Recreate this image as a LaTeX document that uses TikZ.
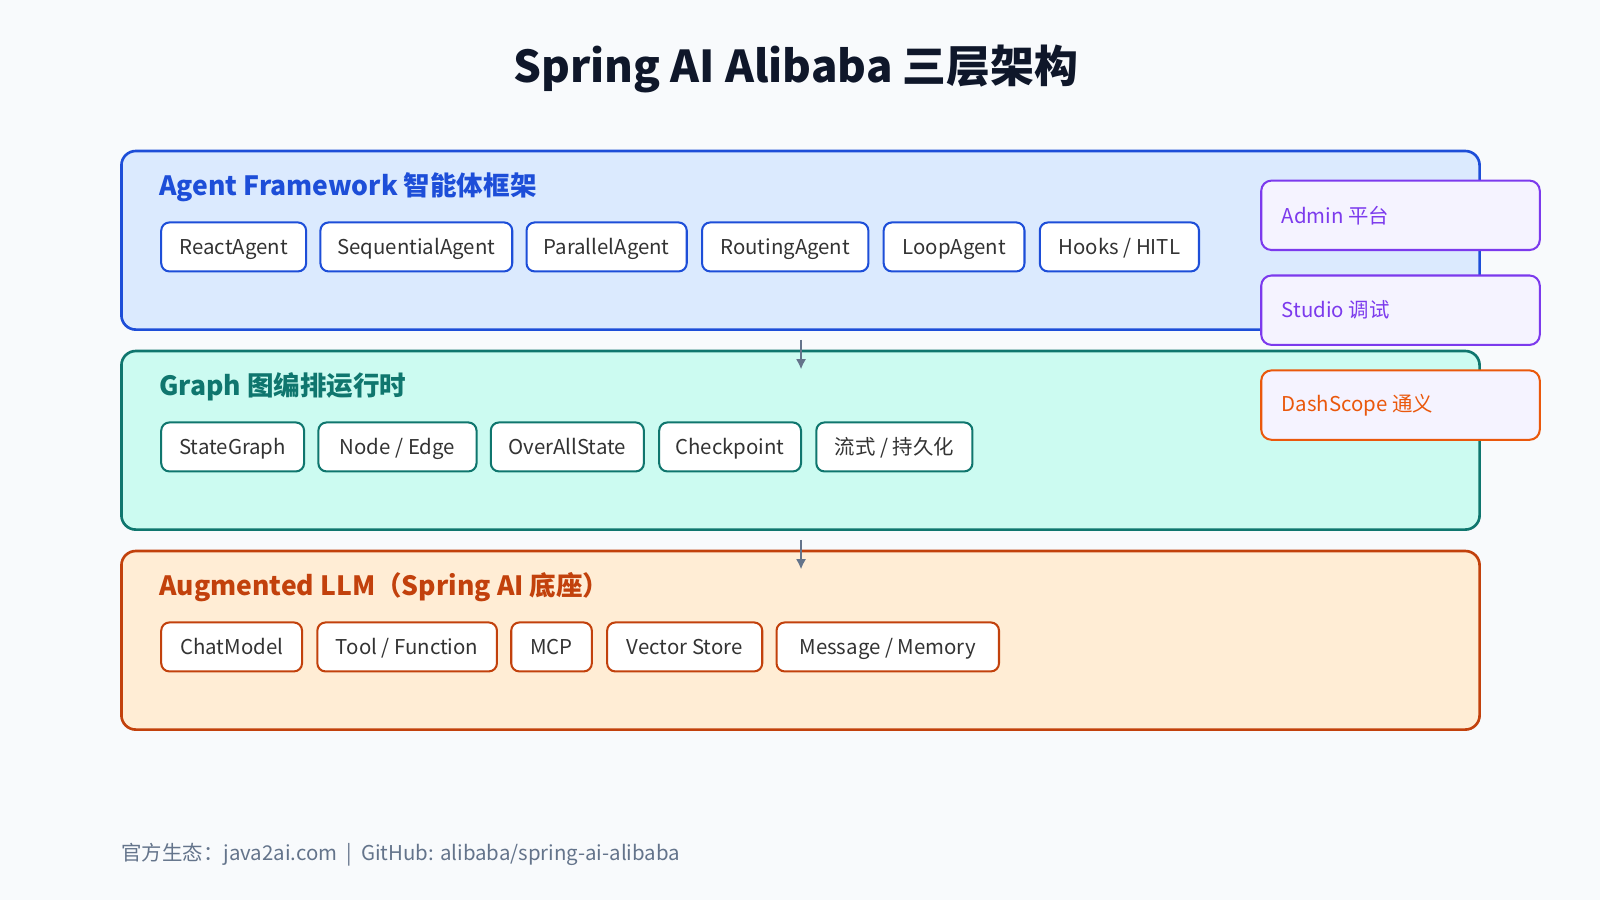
\documentclass[tikz,border=0pt]{standalone}
\usepackage{fontspec}
\setmainfont{Noto Sans CJK SC}
\usetikzlibrary{arrows.meta}
\begin{document}
\begin{tikzpicture}[x=0.5pt,y=-0.5pt,
 layer/.style={draw=#1,line width=1.3pt,rounded corners=7pt},
 chip/.style={draw=#1,fill=white,line width=1pt,rounded corners=4pt,anchor=north west,inner sep=0pt,font=\fontsize{10}{12}\selectfont,text=black!80,text height=9pt,text depth=1.5pt},
 side/.style={line width=1pt,rounded corners=5pt},
 ltitle/.style={anchor=west,font=\fontsize{13}{16}\selectfont\bfseries,text=#1},
 arr/.style={draw={rgb,255:red,100;green,116;blue,139},line width=1.2pt,-{Latex[length=5pt,width=5pt]}}]
\fill[fill={rgb,255:red,248;green,250;blue,252}] (0,0) rectangle (1568,882);
\useasboundingbox (0,0) rectangle (1568,882);
\definecolor{bl}{HTML}{1D4ED8}\definecolor{te}{HTML}{0F766E}\definecolor{or}{HTML}{C2410C}
\definecolor{pu}{HTML}{7C3AED}\definecolor{og}{HTML}{EA580C}
\node[font=\fontsize{21.5}{26}\selectfont\bfseries,text={rgb,255:red,15;green,23;blue,42}] (title) at (780,68) {Spring AI Alibaba 三层架构};
% layers
\draw[layer=bl,fill={rgb,255:red,219;green,234;blue,254}] (119,148) rectangle (1450,323);
\draw[layer=te,fill={rgb,255:red,204;green,251;blue,241}] (119,344) rectangle (1450,519);
\draw[layer=or,fill={rgb,255:red,255;green,237;blue,213}] (119,540) rectangle (1450,715);
\node[ltitle=bl] (t1) at (149,183) {Agent Framework 智能体框架};
\node[ltitle=te] (t2) at (149,379) {Graph 图编排运行时};
\node[ltitle=or] (t3) at (149,575) {Augmented LLM（Spring AI 底座）};
% chips
\foreach \a/\b/\t [count=\i] in {157/299/ReactAgent,313/501/SequentialAgent,515/672/ParallelAgent,687/850/RoutingAgent,865/1003/LoopAgent,1018/1174/{Hooks / HITL}}
 \node[chip=bl,minimum width=(\b-\a)*0.5pt,minimum height=24pt] (a\i) at (\a,217) {\t};
\foreach \a/\b/\t [count=\i] in {157/297/StateGraph,311/466/{Node / Edge},480/630/OverAllState,645/784/Checkpoint,799/952/{流式 / 持久化}}
 \node[chip=te,minimum width=(\b-\a)*0.5pt,minimum height=24pt] (g\i) at (\a,413) {\t};
\foreach \a/\b/\t [count=\i] in {157/295/ChatModel,310/486/{Tool / Function},500/579/MCP,594/746/Vector Store,760/978/{Message / Memory}}
 \node[chip=or,minimum width=(\b-\a)*0.5pt,minimum height=24pt] (l\i) at (\a,609) {\t};
% side
\draw[side,draw=pu,fill={rgb,255:red,245;green,243;blue,255}] (1236,177) rectangle (1509,245);
\node[anchor=west,text=pu,font=\fontsize{10}{12}\selectfont] (s1) at (1249,211) {Admin 平台};
\draw[side,draw=pu,fill={rgb,255:red,245;green,243;blue,255}] (1236,270) rectangle (1509,338);
\node[anchor=west,text=pu,font=\fontsize{10}{12}\selectfont] (s2) at (1249,304) {Studio 调试};
\draw[side,draw=og,fill={rgb,255:red,245;green,243;blue,255}] (1236,363) rectangle (1509,431);
\node[anchor=west,text=og,font=\fontsize{10}{12}\selectfont] (s3) at (1249,397) {DashScope 通义};
% arrows
\coordinate (p1) at (785,333); \coordinate (p2) at (785,362);
\coordinate (p3) at (785,529); \coordinate (p4) at (785,558);
\draw[arr] (p1) -- (p2);
\draw[arr] (p3) -- (p4);
\node[anchor=west,text={rgb,255:red,100;green,116;blue,139},font=\fontsize{10}{12}\selectfont] (foot) at (112,838) {官方生态：java2ai.com \ | \ GitHub: alibaba/spring-ai-alibaba};
\end{tikzpicture}
\end{document}
